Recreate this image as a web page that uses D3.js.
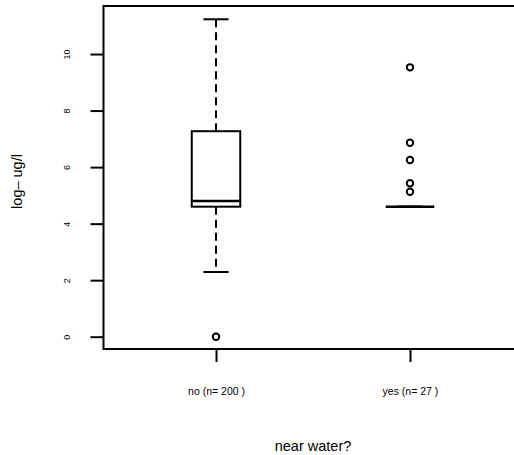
<!DOCTYPE html>
<html><head><meta charset="utf-8">
<script src="https://cdn.jsdelivr.net/npm/d3@7"></script>
<style>body{margin:0;background:#fff}svg{display:block}text{font-family:"Liberation Sans",Arial,sans-serif;fill:#000}</style>
</head><body>
<script>
const categories = ["no (n= 200 )", "yes (n= 27 )"];
const lowerWhisker = [2.29, 4.60];
const q1 = [4.60, 4.60];
const median = [4.80, 4.60];
const q3 = [7.27, 4.60];
const upperWhisker = [11.23, 4.60];
const outliers = [[0.0], [9.53, 6.86, 6.25, 5.43, 5.13]];
const yTicks = [0, 2, 4, 6, 8, 10];

const W = 514, H = 455;
const svg = d3.select("body").append("svg").attr("width", W).attr("height", H);
const pL = 103.5, pT = 6, pB = 349, pR = 522.5;
const x = d3.scaleLinear().domain([0.42, 2.58]).range([pL, pR]);
const y = d3.scaleLinear().domain([-0.435, 11.70]).range([pB, pT]);
const boxW = 0.25, capW = 0.065;

const g = svg.append("g");
categories.forEach((c, i) => {
  const cx = x(i + 1);
  const bl = x(i + 1 - boxW / 2), br = x(i + 1 + boxW / 2);
  const hw = (br - bl) / 2;
  g.append("line").attr("x1", cx).attr("x2", cx).attr("y1", y(q3[i])).attr("y2", y(upperWhisker[i]))
    .attr("stroke", "#000").attr("stroke-width", 2).attr("stroke-dasharray", "8,5");
  g.append("line").attr("x1", cx).attr("x2", cx).attr("y1", y(q1[i])).attr("y2", y(lowerWhisker[i]))
    .attr("stroke", "#000").attr("stroke-width", 2).attr("stroke-dasharray", "8,5");
  const cw = x(1 + capW) - x(1);
  [upperWhisker[i], lowerWhisker[i]].forEach(v => {
    g.append("line").attr("x1", cx - cw).attr("x2", cx + cw).attr("y1", y(v)).attr("y2", y(v))
      .attr("stroke", "#000").attr("stroke-width", 2);
  });
  g.append("rect").attr("x", cx - hw).attr("y", y(q3[i])).attr("width", 2 * hw)
    .attr("height", Math.max(0, y(q1[i]) - y(q3[i]))).attr("fill", "#fff").attr("stroke", "#000").attr("stroke-width", 2);
  g.append("line").attr("x1", cx - hw).attr("x2", cx + hw).attr("y1", y(median[i])).attr("y2", y(median[i]))
    .attr("stroke", "#000").attr("stroke-width", 2.5);
  outliers[i].forEach(v => {
    g.append("circle").attr("cx", cx).attr("cy", y(v)).attr("r", 3.2)
      .attr("fill", "none").attr("stroke", "#000").attr("stroke-width", 2);
  });
});

svg.append("rect").attr("x", pL).attr("y", pT).attr("width", pR - pL).attr("height", pB - pT)
  .attr("fill", "none").attr("stroke", "#000").attr("stroke-width", 2);

const ya = svg.append("g").attr("transform", `translate(${pL},0)`)
  .call(d3.axisLeft(y).tickValues(yTicks).tickSize(13).tickPadding(0).tickFormat(d3.format("d")));
ya.select(".domain").remove();
ya.selectAll("line").attr("stroke", "#000").attr("stroke-width", 2);
ya.selectAll(".tick").each(function(d) {
  d3.select(this).select("text").attr("x", null).attr("dy", "0.35em").attr("y", 0)
    .attr("font-size", 9).attr("fill", "#000").attr("text-anchor", "middle")
    .attr("transform", "translate(-36.5,0) rotate(-90)");
});

const xa = svg.append("g").attr("transform", `translate(0,${pB})`)
  .call(d3.axisBottom(x).tickValues([1, 2]).tickSize(13).tickPadding(0).tickFormat((d, i) => categories[i]));
xa.select(".domain").remove();
xa.selectAll("line").attr("stroke", "#000").attr("stroke-width", 2);
xa.selectAll("text").attr("font-size", 10.5).attr("fill", "#000").attr("y", 46).attr("dy", null);

svg.append("text").attr("x", (pL + pR) / 2).attr("y", 451).attr("text-anchor", "middle")
  .attr("font-size", 14.5).text("near water?");
svg.append("text").attr("transform", `translate(22,${(pT + pB) / 2 + 4}) rotate(-90)`).attr("text-anchor", "middle")
  .attr("font-size", 14.5).text("log– ug/l");
</script>
</body></html>
